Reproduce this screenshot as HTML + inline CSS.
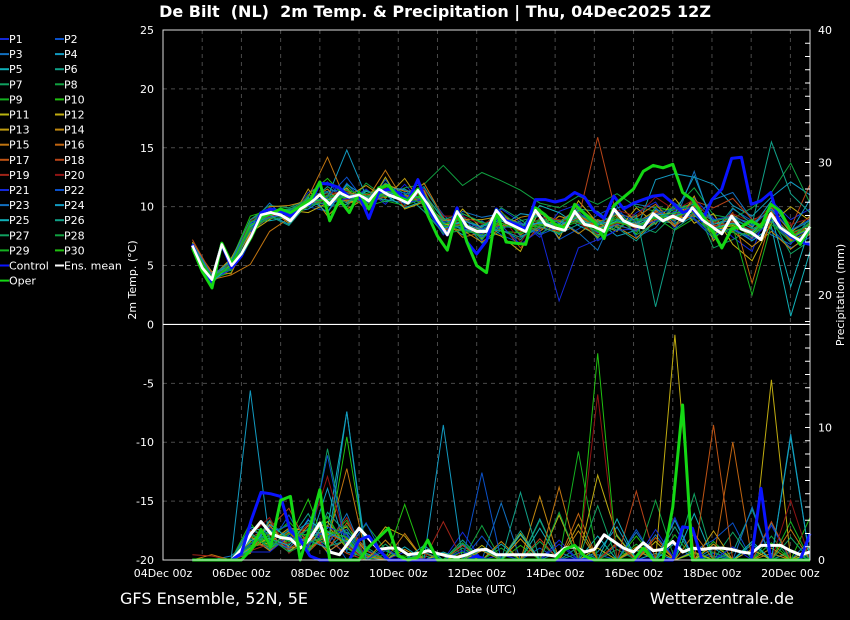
<!DOCTYPE html>
<html><head><meta charset="utf-8">
<style>
html,body{margin:0;padding:0;background:#000;}
body{width:850px;height:620px;overflow:hidden;font-family:"DejaVu Sans","Liberation Sans",sans-serif;}
svg{display:block;}
text{white-space:pre;}
</style></head>
<body>
<svg id="chart" width="850" height="620" viewBox="0 0 850 620" xmlns="http://www.w3.org/2000/svg" font-family="DejaVu Sans, Liberation Sans, sans-serif">
<rect x="0" y="0" width="850" height="620" fill="#000"/>
<text x="435" y="17" fill="#fff" font-size="16" font-weight="bold" text-anchor="middle" xml:space="preserve">De Bilt  (NL)  2m Temp. &amp; Precipitation | Thu, 04Dec2025 12Z</text>
<g id="grid"></g>
<g id="series"></g>
<g id="axes"></g>
<g id="legend"></g>
<text x="120" y="604" fill="#fff" font-size="16">GFS Ensemble, 52N, 5E</text>
<text x="794" y="604" fill="#fff" font-size="16" text-anchor="end">Wetterzentrale.de</text>
</svg>
<script>
// ---- data ----
const dateLabels = ["04Dec 00z","06Dec 00z","08Dec 00z","10Dec 00z","12Dec 00z","14Dec 00z","16Dec 00z","18Dec 00z","20Dec 00z"];
const tempTicks = [25,20,15,10,5,0,-5,-10,-15,-20];
const precipTicks = [40,30,20,10,0];
const meanTemp = [6.7,4.8,3.8,6.8,5.0,6.0,7.5,9.3,9.5,9.3,8.8,9.8,10.3,11.0,10.2,11.2,10.8,11.0,10.5,11.5,11.0,10.7,10.3,11.4,10.2,8.8,7.6,9.6,8.3,7.9,7.9,9.7,8.7,8.3,7.9,9.7,8.5,8.2,8.0,9.6,8.5,8.3,7.9,9.8,8.8,8.4,8.2,9.4,8.8,9.2,8.8,9.9,8.9,8.3,7.7,9.2,8.1,7.8,7.2,9.4,8.2,7.6,7.1,8.3];
const controlTemp = [6.8,4.7,3.5,6.8,4.8,5.8,7.5,9.5,9.8,9.6,9.2,10.0,10.2,12.0,11.9,11.6,10.8,11.0,9.0,11.2,11.5,11.2,10.5,12.3,10.0,8.6,7.6,9.9,7.0,6.0,7.1,9.8,8.8,8.5,8.1,10.6,10.6,10.4,10.6,11.2,10.8,9.6,9.0,10.9,9.8,10.3,10.6,10.9,11.0,10.3,9.5,9.8,8.8,10.6,11.5,14.1,14.2,10.2,10.5,11.2,8.2,7.5,7.0,6.8];
const operTemp = [6.5,4.5,3.1,6.9,5.2,6.0,7.4,9.2,9.4,9.8,9.5,10.0,10.5,12.1,8.8,10.6,9.5,11.2,9.8,11.6,11.8,10.8,10.5,11.5,9.3,7.5,6.3,9.6,7.0,5.0,4.4,9.7,7.0,6.9,6.8,9.9,9.3,8.5,8.2,10.2,9.4,8.7,7.3,10.1,10.8,11.5,13.0,13.5,13.3,13.6,11.2,10.6,9.3,8.0,6.5,8.1,8.3,8.8,8.3,10.2,9.6,8.0,6.8,8.3];
const meanPrecip = [0,0,0,0,0,0.8,2.0,2.9,2.0,1.7,1.6,0.9,1.6,2.8,0.6,0.4,1.4,2.4,1.6,0.8,0.9,0.9,0.4,0.5,0.7,0.5,0.3,0.2,0.4,0.75,0.8,0.4,0.4,0.4,0.4,0.4,0.4,0.3,0.9,1.0,0.6,0.8,1.9,1.4,0.9,0.6,1.3,0.7,0.8,1.4,0.6,0.9,0.8,0.9,0.9,0.8,0.6,0.5,1.1,1.1,1.1,0.7,0.4,0.6];
const controlPrecip = [0,0,0,0,0,0.5,3.0,5.1,5.0,4.8,2.2,1.5,0.3,0,0,0,0,1.5,1.8,0.8,0,0,0,0,0,0,0,0,0,0.3,0,0,0,0,0,0,0,0,0,0,0,0,0,0,0,0,0,0,0,0,2.5,2.4,0,0,0,0,0,0,5.4,0,0,0,0,2.0];
const operPrecip = [0,0,0,0,0,0,0.8,2.3,1.0,4.5,4.8,0,2.5,5.3,0,0,0,0,1.0,1.7,2.4,0.3,0,0.2,1.5,0,0,0,0,0,0,0,0,0,0,0,0,0,0.8,1.1,0.3,0,0,0,0,0,0.9,0,0,4.0,11.7,0,0,0,0,0,0,0,0,0,0,0,0,0];
const memberTemp = [
[6.9,4.1,5.3,8.8,9.9,9.0,11.2,12.1,10.4,11.5,10.2,11.9,10.1,7.6,9.3,7.1,9.8,8.7,7.4,9.6,10.2,7.1,8.0,9.5,10.4,8.1,10.7,9.0,7.4,6.2,10.5,8.9,9.8],
[6.5,3.6,4.7,7.9,9.1,9.8,10.0,9.6,12.0,10.1,12.3,10.2,11.6,9.3,7.9,8.8,7.6,6.9,9.7,7.2,8.1,9.3,10.1,7.4,8.2,10.3,8.9,7.3,9.8,8.8,8.1,6.5,7.4],
[6.8,4.4,4.8,8.5,10.3,8.7,10.9,11.3,11.5,9.8,11.8,11.4,10.2,8.0,9.6,9.1,9.4,7.5,8.1,8.9,7.8,6.3,9.9,10.2,9.9,8.5,9.1,10.6,11.2,8.9,7.6,6.8,9.1],
[6.6,3.9,5.5,8.1,9.6,9.5,9.8,10.8,14.8,10.9,10.6,10.3,11.1,9.0,8.1,7.5,8.3,9.4,9.2,7.6,9.7,8.8,7.5,8.0,12.3,12.8,12.5,11.9,10.1,9.2,10.8,12.1,11.0],
[6.4,3.7,5.1,8.7,8.8,9.1,10.6,10.1,10.2,11.3,11.0,9.9,10.5,8.7,7.6,8.4,9.1,8.2,10.1,9.5,8.4,7.6,8.5,9.0,8.6,9.9,10.2,7.8,8.1,7.1,8.3,0.7,6.2],
[6.9,4.2,4.6,8.0,9.2,8.4,10.3,11.7,10.6,10.4,12.0,11.1,9.6,7.8,8.8,6.9,8.0,7.2,9.0,8.1,9.8,9.6,8.2,7.1,8.8,8.6,9.5,8.5,9.1,8.6,9.7,7.9,8.8],
[6.7,3.5,5.2,8.9,10.1,9.9,10.7,10.4,11.2,10.9,11.4,10.6,11.3,8.2,9.1,8.2,9.9,8.9,7.7,8.6,8.9,7.3,9.5,8.4,7.8,9.4,10.3,6.5,7.2,8.1,9.0,6.0,7.1],
[6.3,4.0,4.9,8.3,9.0,9.6,10.1,11.0,10.0,12.0,10.8,11.6,11.9,13.5,11.8,12.9,12.2,11.4,10.3,9.9,10.9,10.2,11.1,10.0,9.6,9.9,11.6,9.3,9.0,9.9,11.2,13.7,10.3],
[6.8,3.9,4.4,7.6,9.4,9.2,10.4,9.9,11.8,10.0,10.5,10.1,10.7,8.6,7.9,7.7,8.9,8.4,8.3,7.8,9.3,8.4,8.6,8.9,9.1,8.0,9.0,7.7,8.7,7.5,8.8,7.0,7.8],
[6.6,3.4,5.4,9.2,9.7,8.9,11.0,12.4,10.7,11.1,11.6,10.5,10.6,8.3,9.4,8.6,7.9,7.8,8.8,8.5,9.6,7.9,9.2,7.7,10.0,9.6,10.4,8.8,8.3,7.6,9.5,7.4,8.6],
[6.7,3.9,4.8,8.2,9.5,9.4,10.2,10.6,10.5,10.3,11.1,10.8,10.9,8.5,8.4,7.3,8.6,8.1,8.5,8.0,9.1,8.2,8.7,8.2,9.3,9.5,9.7,8.0,8.4,7.7,9.4,7.5,8.1],
[7.0,4.3,5.0,7.8,8.9,9.7,9.5,10.3,11.6,9.7,12.5,9.8,10.4,7.9,9.8,8.1,7.5,6.2,9.8,7.3,10.5,8.6,7.9,9.9,8.5,10.7,8.6,9.4,6.8,5.4,8.6,10.0,8.8],
[6.5,4.0,5.6,8.6,9.8,8.6,11.5,9.2,10.8,11.8,10.7,12.4,10.0,8.8,8.9,8.9,9.2,8.6,7.9,9.2,8.7,7.4,10.4,8.6,9.7,8.3,10.9,7.1,9.3,8.3,9.9,7.8,9.2],
[6.8,4.5,4.3,7.7,10.0,10.1,10.5,11.5,9.8,10.7,11.9,11.3,11.4,8.1,8.0,7.0,8.2,9.1,9.4,8.8,7.7,8.9,8.3,7.3,8.9,9.0,9.2,8.7,7.9,6.6,7.9,6.4,7.7],
[6.6,3.8,4.2,5.1,7.9,9.0,10.8,14.2,10.3,10.5,13.1,10.4,12.0,9.1,7.4,7.8,9.6,7.6,8.7,8.2,9.4,8.1,9.0,8.5,9.5,8.8,10.1,7.6,8.8,7.3,9.6,7.2,8.5],
[6.9,4.1,5.3,8.4,9.3,9.1,10.0,10.9,11.4,10.2,10.9,11.0,10.3,8.9,9.0,8.0,8.4,8.3,8.9,8.7,9.9,8.7,9.3,9.1,10.2,8.4,9.4,7.9,9.5,3.5,9.1,7.1,8.0],
[6.4,4.2,4.9,8.0,9.1,9.6,10.6,10.2,11.1,11.0,11.3,10.9,11.2,8.0,8.6,7.6,8.8,7.9,8.2,7.9,9.2,8.3,8.4,8.0,9.0,9.3,10.0,8.4,8.5,8.0,9.3,7.7,8.4],
[7.2,4.3,5.1,8.1,9.6,8.8,10.2,10.7,10.9,10.8,11.0,10.6,10.7,8.6,8.7,7.8,8.5,6.5,8.4,8.4,9.0,15.9,9.1,8.1,9.6,9.0,10.5,9.9,10.7,8.9,9.4,8.2,11.9],
[6.7,3.7,5.0,8.4,9.2,9.2,10.4,10.5,10.6,10.6,11.1,10.7,10.8,8.3,8.5,8.0,8.6,8.1,8.6,8.1,9.1,8.0,8.6,8.4,9.1,9.1,9.6,8.3,8.7,8.0,9.1,7.6,8.2],
[6.6,4.0,5.2,8.8,9.9,9.4,10.9,11.1,11.3,9.9,11.6,10.0,11.5,9.2,9.2,8.5,9.3,7.0,9.1,8.9,8.6,7.7,9.7,9.2,10.8,9.7,10.6,8.6,9.4,8.7,10.0,8.5,9.0],
[6.8,3.8,4.7,8.2,9.4,9.0,10.3,10.2,10.7,10.5,11.2,10.3,10.6,8.2,8.3,7.7,8.4,6.8,8.0,2.0,6.5,7.2,8.0,8.1,8.8,9.6,9.0,7.5,8.2,7.2,8.9,6.9,7.9],
[6.5,3.9,4.8,8.6,9.5,9.6,10.5,10.8,12.5,10.3,11.0,11.2,10.4,8.7,8.9,8.1,9.0,8.6,7.6,8.3,9.5,8.4,9.6,8.7,9.4,9.8,9.9,8.9,9.2,8.4,9.8,8.0,8.9],
[6.9,4.2,5.3,8.5,9.1,9.3,10.1,10.4,10.9,10.4,11.2,10.5,11.0,8.4,8.2,7.4,8.3,8.2,9.5,8.6,8.8,7.8,8.5,7.9,9.8,8.7,13.0,8.1,8.0,7.4,9.3,7.3,8.1],
[6.7,4.1,5.1,8.3,9.3,8.5,10.8,9.5,11.9,10.8,11.5,11.5,10.5,8.1,8.8,8.3,8.9,8.5,8.6,8.5,10.0,8.5,8.9,8.6,9.3,9.4,12.6,8.5,8.9,8.2,10.5,7.9,10.6],
[6.6,3.6,5.0,8.4,9.5,9.4,10.4,10.6,11.0,10.7,11.3,10.8,10.8,8.6,8.6,8.0,8.8,8.0,8.7,8.4,9.1,8.1,8.8,8.4,9.2,9.2,9.8,8.2,8.6,7.9,9.2,3.2,8.3],
[6.8,3.9,5.4,8.9,9.8,9.7,10.7,11.2,10.3,11.4,10.4,11.0,11.7,9.0,8.0,7.9,8.0,7.4,8.3,7.7,8.5,8.8,8.0,9.3,1.5,8.1,9.3,7.8,9.9,8.5,15.5,11.1,9.5],
[6.6,4.0,4.9,8.0,9.7,9.8,10.2,10.3,11.2,10.6,11.8,10.4,11.1,8.9,9.4,8.7,8.1,8.8,9.2,8.0,9.3,8.6,9.4,7.6,8.6,10.1,9.7,8.8,9.1,8.1,8.7,7.3,8.7],
[6.7,3.7,5.2,8.2,9.0,9.1,10.9,10.9,10.8,10.1,11.4,10.9,10.2,7.7,8.0,7.6,9.5,8.3,8.9,8.8,9.2,7.5,8.3,8.8,9.0,8.9,10.2,8.0,7.8,7.6,9.0,7.8,8.4],
[6.5,4.1,4.7,8.7,9.6,9.0,10.0,10.7,11.4,10.9,10.9,10.6,10.9,8.5,8.9,7.2,9.0,7.7,8.4,8.2,8.7,7.9,9.0,8.3,9.1,9.5,9.5,7.4,8.3,2.5,8.5,7.0,8.0],
[6.8,3.8,5.0,8.4,9.3,9.5,10.6,10.5,10.8,10.6,11.1,10.7,10.8,8.3,8.4,7.9,8.6,8.0,8.5,8.2,8.9,8.0,8.7,8.3,9.1,9.1,9.7,8.1,8.5,7.8,9.1,7.5,8.2]
];
const memberPrecip = [
[0,0,0,1.2,2.5,0.8,3.1,0.5,1.8,0.3,0,0.6,0,0,2.1,0,0.4,0,0,1.5,0,0,0.8,0,0,3.2,0,0.5,0,0,2.6,0,0],
[0,0,0,2.0,1.1,3.4,0.7,2.2,0,0.8,0,0,0,0.5,0,1.8,0,0,0.9,0,0,0.4,0,2.3,0,0,0.7,1.5,2.8,0,0,0.6,0],
[0,0,0.3,1.5,0.8,1.9,2.8,1.1,3.5,0,0.7,0,0,0,1.2,0,4.3,0,0,0.6,0,0,1.1,0,1.9,0,0,0.3,0,0.8,0,0,1.5],
[0,0,0,12.8,1.4,2.2,0.9,5.4,0.6,0.2,0,0,0,10.2,0,0.8,0,0,3.1,0,0,0.6,2.5,0,0,1.3,0,0.9,0,0,2.8,0,0.4],
[0,0,0,2.5,2.0,0.7,1.6,2.4,11.2,0.5,0,1.0,0,0.6,0,0,1.2,0,2.4,0,0,1.8,0,0,0.5,0,3.5,0,0,1.2,0,9.3,0],
[0,0,0,0.8,3.0,1.4,3.5,0.9,2.1,1.0,0,0,0.3,0,1.5,0,0,2.2,0,0,1.0,0,0,0.7,0,2.5,0,0,0.6,3.8,0,0,0.9],
[0,0,0,1.6,1.8,2.7,0.4,8.4,1.2,0,1.2,0,0,0,0.9,0,0,0,3.0,0,0.5,0,1.9,0,0,0,5.0,0,2.1,0,0,0.7,0],
[0,0,0,0.6,2.3,1.2,2.0,3.2,0.8,2.7,0.8,0,0,0.4,0,2.6,0,0,1.4,0,0,0,0.8,0,4.5,0,0,0.6,0,0,1.8,0,0],
[0,0,0,1.1,1.5,2.9,1.4,1.6,3.0,0,0.4,0.3,0,0,0,0,0.9,0,0,0,8.2,0,0,1.2,0,0,0,1.4,0,0,0,2.9,0],
[0,0,0,2.8,0.9,1.5,4.6,0.7,9.3,0.4,0,0,0,0,0.6,0,0,1.1,0,0,0,15.6,0,1.8,0,0,0.5,0,0,0,1.3,0,3.2],
[0,0,0,0.9,1.7,0.6,1.8,2.9,1.0,0,0,0,0,0.5,0,1.1,0,2.0,0,3.4,0,0.9,0,0,1.4,0,0.6,0,0,0.8,0,0,0.5],
[0,0,0,1.4,2.6,1.0,0.8,1.9,2.5,0.6,2.5,1.8,0,0,0.4,0,0,0,0,0,0,6.4,1.8,0,0,17.0,0,1.2,0,0,13.6,0,1.0],
[0,0,0,1.0,1.3,2.4,2.2,0.6,1.6,0,0,0.8,0,0,0,0.7,0,1.6,0,0,2.7,0,0,1.0,0.8,0,0,2.2,0,0,0.9,0,0],
[0,0,0,1.8,0.7,1.7,1.2,2.6,0.9,0,1.5,0,0,0,0,0,1.4,0,4.8,0,2.2,0,0,0.8,0,0,0,0,0,0,0.5,0,0],
[0,0.4,0,0.5,2.9,0.9,2.6,1.4,6.9,0.3,0,2.0,0,0,0,0,0,0,0,5.5,0,0,1.3,0,0,0,2.0,0,0,0,0,2.3,0],
[0,0,0,1.3,1.0,2.1,0.6,2.0,1.3,0,0,0,0.5,0,0,0,0,0,0,0,3.5,0,0,0,0,0,0,0,8.9,0,0,0,0],
[0,0,0,2.2,1.9,0.8,1.9,0.8,2.8,0.7,0,0,0,0,1.1,0,0,0,0,0,0,0,0,0,1.7,0,0,10.2,0,0,0,0,0],
[0,0,0,1.7,2.4,3.9,1.0,1.5,0.5,0,0,0,0,0,0,0,0,0,1.6,0,0,0,0,5.2,0,0,0,0,0,0,2.9,0,0],
[0.4,0.3,0,0.7,1.2,1.3,2.7,1.3,3.2,0,0,0,0,2.9,0,0,0,0,0,0,0,0,1.2,0,0,0,0,0,0,0,0,0,0],
[0,0,0,1.9,3.2,0.5,1.7,6.3,1.1,0,0,0,0,0,0,0,0,0,0,0,0,12.5,0,0,0,0,0,0,0,0,0,4.5,0],
[0,0,0,0.6,0.6,1.8,1.1,2.5,1.9,0,0.9,0,0,0,0.7,0,0,0,0,1.2,0,0,0,0,2.3,0,0,0,1.0,0,0,0,0],
[0,0,0,1.2,2.1,2.6,0.9,7.9,0.7,2.8,0,0,0,0,0,6.6,0,0,0,0,0,0,0,0,0,0,0,0,0,0,0,0,0],
[0,0,0,2.4,1.4,0.9,2.4,1.7,2.3,0,0,0,0,0,0,0,0,0,0,0,0,0,0,2.1,0,0,0,0,0,4.0,0,0,0],
[0,0,0,0.8,2.7,1.6,1.5,0.9,11.2,0,0,0,0,0,0,0,0,0,0,0,0,0,0,0,0,3.0,0,0,0,0,0,9.5,0],
[0,0,0,1.5,1.6,1.1,3.0,2.1,1.4,0,0,0,1.1,0,0,0,0,1.9,0,0,0,0,3.1,0,0,0,0,0,0,1.4,0,0,0],
[0,0,0,2.1,0.8,2.3,0.5,3.6,2.0,0,0,0,0.6,0,0,0,0,5.1,0,0,0,0,0,0,0,0,0,0,0,0,0,0,0],
[0,0,0,1.0,2.2,1.4,2.3,1.0,1.5,0,0,0,0,0,0,0.9,0,0,0,0,0,4.1,0,0,0,0,0,0,0,0,0,1.7,0],
[0,0,0,1.3,1.7,0.6,1.3,1.8,2.6,0,0,0,0,0,0,0,0,0,0,3.6,0,0,0,0,0,0,0,0,0,0,0,0,0],
[0,0,0,1.9,1.0,2.0,1.9,3.3,0.9,0,0,0,0,0,1.3,0,0,0,0,0,0,0,0,0,0,1.9,0,0,0,0,0,0,0],
[0,0,0,0.7,2.0,1.7,0.8,2.2,1.7,0,0,4.2,0,0,0,0,0,0,0,0,0,0,0,0,0,0,0,0,0,0,0,0,0]
];
const memberColors = ["#1428d8","#0a50c8","#1270c0","#129ac0","#10b0b8","#10a088","#10a060","#10a040","#14b020","#20c010","#b8b410","#c0ac10","#c09c10","#c08810","#c07410","#c06410","#c05414","#b84418","#a02418","#901414"];

// ---- scales ----
const X0 = 163, X1 = 810, Y0 = 30, Y1 = 560;
function xScale(day){ return X0 + day * (X1 - X0) / 16.5; }
function yTemp(t){ return Y0 + (25 - t) * (Y1 - Y0) / 45; }
function yPrec(p){ return Y1 - p * (Y1 - Y0) / 40; }
const NS = "http://www.w3.org/2000/svg";
function mk(tag, attrs, parent){ const e = document.createElementNS(NS, tag); for (const k in attrs) e.setAttribute(k, attrs[k]); parent.appendChild(e); return e; }
const grid = document.getElementById('grid'), series = document.getElementById('series'), axes = document.getElementById('axes'), legend = document.getElementById('legend');

// grid
for (let d = 1; d <= 16; d++) {
  const gl = mk('line', {x1:xScale(d), x2:xScale(d), y1:Y0, y2:Y1, stroke:'#4a4a4a', 'stroke-dasharray':'4,4', 'stroke-width':1}, grid);
  
  
}
tempTicks.forEach(t => {
  if (t === 25 || t === -20 || t === 0) return;
  const gl = mk('line', {x1:X0, x2:X1, y1:yTemp(t), y2:yTemp(t), stroke:'#4a4a4a', 'stroke-dasharray':'4,4', 'stroke-width':1}, grid);
  
  
});

// series
function pathFrom(vals, xf, yf){ return vals.map((v,i)=> (i?'L':'M') + xf(i).toFixed(1) + ',' + yf(v).toFixed(1)).join(''); }
const xMember = i => xScale(0.75 + i * 15.75 / 32);
const xMain = i => xScale(0.75 + i * 0.25);
memberTemp.forEach((vals, m) => {
  const p = mk('path', {d:pathFrom(vals, xMember, yTemp), fill:'none', stroke:memberColors[m % 20], 'stroke-width':1}, series);
  
  
});
memberPrecip.forEach((vals, m) => {
  const p = mk('path', {d:pathFrom(vals, xMember, yPrec), fill:'none', stroke:memberColors[m % 20], 'stroke-width':1}, series);
  
  
});
const mainSeries = [[meanTemp, yTemp, '#ffffff', 'mean-temp-line'], [meanPrecip, yPrec, '#ffffff', 'mean-precip-line'],
  [controlTemp, yTemp, '#0a14ff', 'control-temp-line'], [controlPrecip, yPrec, '#0a14ff', 'control-precip-line'],
  [operTemp, yTemp, '#14d814', 'oper-temp-line'], [operPrecip, yPrec, '#14d814', 'oper-precip-line']];
mainSeries.forEach(s => {
  const p = mk('path', {d:pathFrom(s[0], xMain, s[1]), fill:'none', stroke:s[2], 'stroke-width':3, 'stroke-linejoin':'round'}, series);
  
  
});
const meanTop = mk('path', {d:pathFrom(meanTemp, xMain, yTemp), fill:'none', stroke:'#ffffff', 'stroke-width':2.5, 'stroke-linejoin':'round'}, series);



// axes
const frame = mk('rect', {x:X0, y:Y0, width:X1-X0, height:Y1-Y0, fill:'none', stroke:'#ddd', 'stroke-width':1}, axes);


const zl = mk('line', {x1:X0, x2:X1, y1:yTemp(0), y2:yTemp(0), stroke:'#fff', 'stroke-width':1.2}, axes);


tempTicks.forEach(t => {
  const tx = mk('text', {x:154, y:yTemp(t)+4, fill:'#fff', 'font-size':11, 'text-anchor':'end'}, axes);
  tx.textContent = t;
  
  
});
precipTicks.forEach(p => {
  const tx = mk('text', {x:818, y:yPrec(p)+4, fill:'#fff', 'font-size':11}, axes);
  tx.textContent = p;
  
  
});
for (let p = 1; p < 40; p++) {
  const tk = mk('line', {x1:X1-5, x2:X1, y1:yPrec(p), y2:yPrec(p), stroke:'#fff', 'stroke-width':1}, axes);
  
  
}
dateLabels.forEach((lab, i) => {
  const tx = mk('text', {x:xScale(i*2), y:577, fill:'#fff', 'font-size':11, 'text-anchor':'middle'}, axes);
  tx.textContent = lab;
  
  
});
const xt = mk('text', {x:486, y:593, fill:'#fff', 'font-size':11, 'text-anchor':'middle'}, axes);
xt.textContent = 'Date (UTC)';


const yt = mk('text', {x:0, y:0, fill:'#fff', 'font-size':11, 'text-anchor':'middle', transform:'translate(136,280) rotate(-90)'}, axes);
yt.textContent = '2m Temp. (°C)';


const y2t = mk('text', {x:0, y:0, fill:'#fff', 'font-size':11, 'text-anchor':'middle', transform:'translate(844,295) rotate(-90)'}, axes);
y2t.textContent = 'Precipitation (mm)';



// legend
const legendItems = [];
for (let i = 1; i <= 30; i++) legendItems.push(['P' + i, memberColors[(i-1) % 20]]);
legendItems.push(['Control', '#0a14ff'], ['Ens. mean', '#ffffff'], ['Oper', '#14d814']);
legendItems.forEach((it, i) => {
  const col = i % 2, row = Math.floor(i / 2);
  const lx = col * 55, ly = 39 + row * 15.1;
  const ln = mk('line', {x1:lx, x2:lx+9, y1:ly, y2:ly, stroke:it[1], 'stroke-width':2}, legend);
  
  
  const tx = mk('text', {x:lx+9, y:ly+4, fill:'#fff', 'font-size':11}, legend);
  tx.textContent = it[0];
  
  
});
</script>
</body></html>
